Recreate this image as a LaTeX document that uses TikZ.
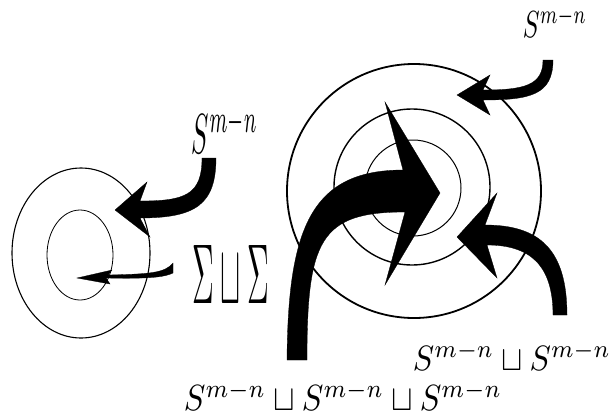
\documentclass[tikz,border=0pt]{standalone}
\usepackage{graphicx}
\begin{document}
\begin{tikzpicture}[x=1pt,y=-1pt,
  ring/.style={draw=black},
  arrowfill/.style={fill=black,draw=black,line width=0.3pt,line join=miter},
  lbl/.style={inner sep=0pt,anchor=center}]
\useasboundingbox (0,0) rectangle (616,416);
% left rings
\draw[ring,line width=1.1pt] (81,253) ellipse [x radius=69, y radius=85];
\draw[ring,line width=0.8pt] (80,255) ellipse [x radius=33, y radius=45];
% right rings
\draw[ring,line width=1.8pt] (414,191) circle [radius=127];
\draw[ring,line width=1.4pt] (412,187) circle [radius=78];
\draw[ring,line width=1pt] (413,188) circle [radius=48];
% text
\node[lbl] (s1) at (225,131) {\resizebox*{66pt}{45pt}{$S^{m-n}$}};
\node[lbl] (sig) at (231,274) {\resizebox*{77pt}{58pt}{$\Sigma\sqcup\Sigma$}};
\node[lbl] (s2) at (555,22) {\resizebox*{64pt}{30pt}{$S^{m-n}$}};
\node[lbl] (s3) at (512,356) {\resizebox*{198pt}{28pt}{$S^{m-n}\sqcup S^{m-n}$}};
\node[lbl] (s4) at (343,396) {\resizebox*{318pt}{29pt}{$S^{m-n}\sqcup S^{m-n}\sqcup S^{m-n}$}};
% arrow A (left big)
\fill[arrowfill] (216,158) .. controls (216,205) and (195,218) .. (140,218)
  -- (150,237) -- (115,210) -- (147,182) -- (140,201)
  .. controls (185,201) and (202,195) .. (202,158) -- cycle;
% arrow B (left small, tapered)
\fill[arrowfill] (173,263) .. controls (165,273) and (150,274) .. (108,275)
  -- (112,270) -- (77,278) -- (110,284) -- (106,278)
  .. controls (150,279) and (165,277) .. (173,273) -- cycle;
% arrow C (right big)
\fill[arrowfill] (287,360) .. controls (288,230) and (310,170) .. (403,170)
  -- (385,102) -- (440,193) -- (385,285) -- (405,212)
  .. controls (320,212) and (307,240) .. (307,360) -- cycle;
% arrow D (right bottom)
\fill[arrowfill] (567,315) .. controls (567,250) and (540,225) .. (485,225)
  -- (497,193) -- (457,237) -- (497,278) -- (487,245)
  .. controls (530,245) and (553,265) .. (553,315) -- cycle;
% arrow E (top right)
\fill[arrowfill] (553,60) .. controls (553,95) and (530,100) .. (483,100)
  -- (490,115) -- (457,95) -- (490,75) -- (483,90)
  .. controls (525,90) and (543,85) .. (543,60) -- cycle;
\end{tikzpicture}
\end{document}
